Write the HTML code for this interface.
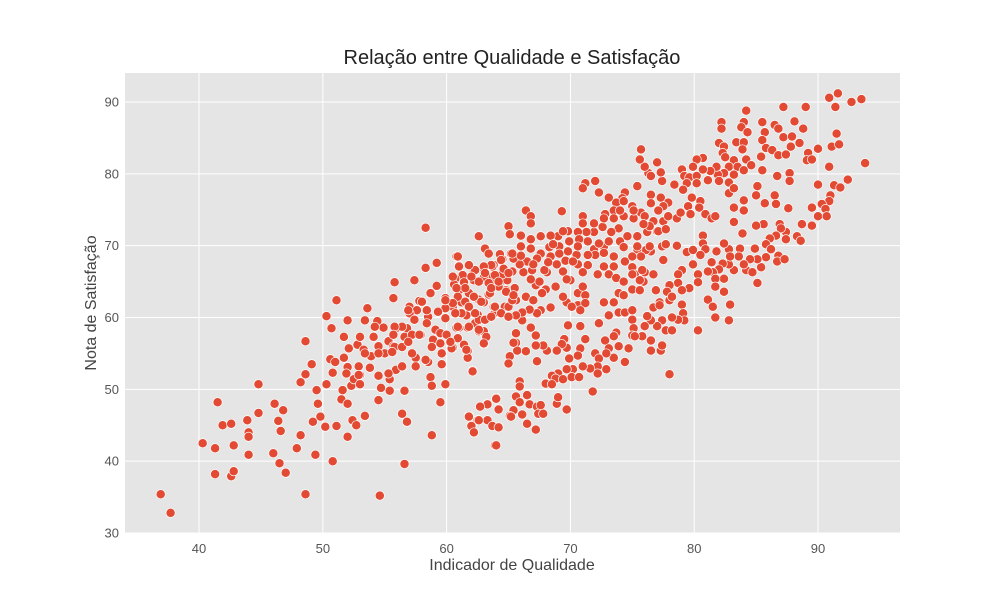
<!DOCTYPE html>
<html><head><meta charset="utf-8"><style>
html,body{margin:0;padding:0;background:#fff;}
svg{display:block;font-family:"Liberation Sans",sans-serif;}
</style></head><body>
<svg id="chart" width="1000" height="600" viewBox="0 0 1000 600">
<rect x="0" y="0" width="1000" height="600" fill="#fff"/>
<rect x="125" y="73" width="775" height="460" fill="#e5e5e5"/>
<g id="grid"></g>
<g id="ticks"></g>
<g id="marks"></g>
<text x="512" y="64" text-anchor="middle" font-size="20" fill="#222">Relação entre Qualidade e Satisfação</text>
<text x="512" y="570" text-anchor="middle" font-size="16" fill="#444">Indicador de Qualidade</text>
<text x="0" y="0" transform="translate(96,303) rotate(-90)" text-anchor="middle" font-size="16" fill="#444">Nota de Satisfação</text>
</svg>
<script>
const xTicks = [40, 50, 60, 70, 80, 90];
const yTicks = [30, 40, 50, 60, 70, 80, 90];
const pontos = [
[36.9,35.4],[37.7,32.8],[40.3,42.5],[41.3,41.8],[41.3,38.2],[41.5,48.2],[41.9,45.0],[42.6,45.2],[42.8,42.2],[42.6,37.9],
[42.8,38.6],[43.9,45.7],[44.0,44.0],[44.0,43.4],[44.0,40.9],[44.8,46.7],[44.8,50.7],[46.0,41.1],[46.1,48.0],[46.4,45.6],
[46.5,39.7],[46.6,44.2],[46.8,47.1],[47.0,38.4],[47.9,41.8],[48.2,51.0],[48.2,43.6],[48.6,52.1],[48.6,56.7],[48.6,35.4],
[49.1,53.5],[49.4,40.9],[49.5,49.9],[49.6,48.0],[49.8,46.2],[49.2,45.5],[50.2,44.8],[50.3,50.7],[50.3,60.2],[50.6,54.2],
[50.7,58.5],[50.8,40.0],[50.8,52.3],[51.0,53.8],[51.1,44.9],[51.1,62.4],[51.5,48.6],[51.6,49.9],[51.7,57.3],[51.7,54.4],
[52.0,43.4],[52.0,48.0],[52.0,53.1],[52.0,59.6],[52.4,45.7],[52.7,45.0],[52.3,50.5],[52.5,51.4],[52.8,56.2],[53.0,57.3],
[53.0,52.0],[53.0,50.7],[53.4,46.3],[53.4,59.6],[53.6,61.3],[53.3,55.5],[53.8,53.0],[54.1,57.3],[54.4,59.5],[54.5,56.0],
[54.5,51.9],[54.5,48.5],[54.6,35.2],[54.7,50.2],[54.9,58.6],[55.3,56.7],[55.4,51.4],[55.4,49.8],[55.7,62.7],[55.8,64.9],
[55.7,56.0],[55.9,52.7],[56.0,58.6],[56.4,46.6],[56.6,49.8],[56.6,39.6],[56.8,45.5],[56.8,58.5],[57.0,61.5],[57.2,57.6],
[57.4,65.2],[57.5,54.4],[57.5,53.2],[57.8,62.3],[57.9,57.6],[58.3,72.5],[58.3,66.9],[58.5,53.8],[58.7,51.7],[58.8,50.5],
[58.8,43.6],[58.7,63.4],[59.2,67.6],[59.2,64.4],[59.5,48.2],[59.6,53.5],[59.9,50.7],[59.9,59.9],[59.9,62.7],[60.8,68.5],
[61.0,67.2],[62.1,52.6],[62.6,71.3],[61.8,46.3],[62.2,44.0],[62.5,45.7],[62.7,47.6],[63.3,48.0],[63.3,45.7],[63.7,44.9],
[63.9,42.2],[64.0,48.8],[64.2,47.3],[64.2,44.8],
[90.9,90.6],[91.6,91.2],[91.4,89.3],[92.7,90.0],[93.5,90.4],[87.2,89.3],[89.0,89.3],[84.2,88.8],[82.2,87.2],[82.2,86.3],
[84.0,87.2],[83.8,86.5],[84.3,85.8],[85.5,87.2],[85.7,85.8],[86.5,86.8],[86.8,86.3],[87.2,85.1],[87.9,85.2],[88.1,87.3],
[88.8,86.3],[88.5,84.3],[87.8,83.8],[91.5,85.6],[91.1,83.8],[91.7,84.1],[90.0,83.5],[89.2,82.9],[89.1,81.9],[89.5,82.0],
[90.9,81.0],[93.8,81.5],[82.0,84.3],[82.4,83.8],[82.3,82.9],[82.5,82.3],[83.4,84.4],[84.0,84.4],[83.9,83.4],[85.5,84.7],
[85.8,83.6],[86.3,83.3],[86.8,82.6],[87.4,82.7],[85.4,82.4],[84.2,82.0],[84.6,81.2],[85.5,80.5],[83.2,81.9],[82.8,81.0],
[83.5,81.0],[84.0,80.5],[83.2,79.9],[82.8,78.8],[82.4,80.1],[81.9,79.9],[81.8,81.0],[81.3,80.4],[80.7,82.2],[80.2,82.0],
[79.9,81.0],[79.0,80.6],[79.2,79.7],[79.6,79.5],[80.2,79.7],[80.7,80.6],[81.1,79.1],[82.0,79.0],[80.2,78.7],[79.4,78.7],
[79.1,77.8],[78.4,78.5],[77.4,79.0],[77.3,80.2],[77.0,81.6],[76.3,80.1],[76.0,81.0],[75.6,82.0],[75.7,83.4],[76.5,79.7],
[75.4,78.3],[74.4,77.4],[74.2,76.6],[73.7,76.0],[73.1,76.7],[72.0,79.0],[71.2,78.7],[71.0,78.0],[72.3,77.4],[76.5,77.1],
[77.3,76.7],[77.9,76.0],[77.5,75.5],[77.1,74.9],[76.5,75.9],[75.7,74.6],[75.0,75.5],[74.3,76.2],[73.5,74.9],[72.8,74.4],
[71.0,74.1],[71.0,73.1],[69.3,74.8],[66.4,74.9],[66.8,74.1],[66.8,73.1],[65.0,72.7],[65.1,71.6],[66.0,71.4],[62.6,71.3],
[63.1,69.6],[63.4,68.9],[60.9,68.5],[61.0,67.1],
[79.8,76.7],[80.5,76.2],[79.5,75.5],[80.4,75.3],[79.7,74.4],[80.9,74.4],[81.4,73.8],[81.7,74.1],[78.6,73.8],[78.9,74.6],
[82.8,77.3],[83.2,78.0],[84.0,76.3],[83.2,75.3],[84.0,74.9],[83.2,73.3],[83.9,71.7],[85.0,77.0],[85.1,78.3],[85.7,75.9],
[86.5,77.0],[86.6,75.8],[86.7,79.7],[87.7,80.1],[87.7,79.0],[87.6,75.2],[90.0,78.5],[91.3,78.4],[91.8,78.1],[92.4,79.2],
[91.0,77.0],[90.9,76.2],[90.3,75.8],[89.5,75.3],[90.6,75.1],[90.0,74.1],[90.7,74.1],[89.5,72.8],[88.7,73.0],[88.3,71.3],
[88.6,70.7],[87.4,71.9],[87.4,70.9],[86.9,73.0],[87.0,72.4],[86.6,71.4],[86.1,71.0],[85.8,70.2],[85.6,73.0],[85.0,72.8],
[84.9,69.6],[86.2,69.5],[86.8,68.6],[86.7,67.8],[87.3,68.1],[85.8,68.4],[85.4,67.0],[85.1,68.1],[84.5,68.1],[84.2,66.6],
[84.7,66.3],[85.1,64.8],[83.7,69.6],[83.6,68.5],[84.0,67.4],[83.2,66.6],[82.8,67.4],[82.8,69.5],[82.4,70.3],[82.9,68.5],
[82.3,67.5],[82.4,65.4],[82.0,66.7],[81.4,67.7],[81.5,66.3],[81.7,65.4],[81.8,69.2],[81.1,66.4],[80.3,66.0],[80.3,64.9],
[79.6,64.1],[79.9,67.4],[79.4,69.1],[79.9,69.4],[80.7,71.4],[80.7,70.3],[80.9,69.5],[80.5,68.7],[79.0,66.6],[78.7,66.0],
[78.7,64.8],[79.0,63.8],[78.0,64.5],[77.8,63.6],[78.0,62.4],[77.5,68.0],[77.4,69.9],[77.7,70.2],[78.6,70.0],[76.5,69.2],
[76.1,69.4],[75.4,69.5],[75.7,68.5],[75.0,67.0],[75.2,66.0],[76.0,66.3],[76.7,66.0],[75.9,65.0],[75.0,63.9],[75.6,63.8],
[76.9,63.8],[77.2,62.1],[78.2,62.9],[79.0,61.8],[79.1,60.6],[79.2,59.6],[78.7,59.7],[78.2,60.0],[77.4,59.6],[77.0,58.8],
[77.7,58.2],[78.2,58.2],[76.5,59.6],[76.2,60.2],[76.7,61.4],[77.2,61.7],[76.0,58.8],[75.8,57.4],[76.5,56.8],[76.5,55.4],
[77.3,55.4],[77.4,56.1],[78.0,52.1],[80.3,58.2],[81.1,62.5],[81.5,61.5],[81.7,60.0],[82.9,61.8],[82.8,59.6],[82.4,63.6],
[81.7,64.3],[73.9,63.4],[74.3,63.1],[73.5,62.1],[73.9,60.7],[74.4,60.7],[75.0,61.0],[75.0,59.7],[75.1,58.5],[75.0,57.5],
[75.2,57.4],[73.7,57.9],[73.5,57.4],[72.8,56.8],[73.1,55.7],[73.5,54.4],[73.9,56.0],[74.7,55.7],[74.4,53.8],[72.7,62.1],
[73.1,60.3],[72.3,59.2],[72.0,55.0],[72.3,54.3],[72.9,55.0],[72.9,52.8],[72.2,53.2],[72.2,52.2],[71.6,52.9],[71.0,53.2],
[71.8,49.7],[71.2,57.0],[70.8,55.7],[70.6,54.7],[69.9,54.3],[69.7,55.8],[69.5,57.0],[69.3,56.3],[68.9,55.4],[68.1,55.4],
[67.8,56.1],[67.2,56.1],[67.3,53.9],[67.2,57.5],[66.8,58.6],[66.1,59.6],[65.6,57.8],[65.6,56.5],[65.7,55.4],[65.1,54.6],
[65.0,53.6],[66.4,55.3],[69.8,58.9],[70.8,58.8],[70.2,52.8],[69.7,52.8],[69.0,52.2],[68.5,51.9],[68.8,51.5],[69.4,51.4],
[70.1,51.7],[70.7,51.7],[68.0,50.8],[68.5,50.7],[68.9,48.0],[69.0,48.9],[69.7,47.2],[65.9,51.1],[65.9,50.4],[65.6,49.0],
[66.5,49.2],[65.9,48.2],[66.7,47.9],[67.3,47.6],[67.6,47.8],[67.4,46.6],[67.8,46.6],[67.2,44.4],[66.5,45.2],[66.1,46.5],
[65.4,47.1],[65.1,46.3],[64.2,47.2],[64.0,48.7],[63.3,47.9],[62.7,47.6],[61.8,46.2],[62.6,45.7],[62.0,44.9],[62.2,44.0],
[63.7,44.9],[64.2,44.7],[64.0,42.2],[65.2,46.2],
[70.6,63.4],[71.2,63.1],[70.6,61.7],[71.2,62.0],[70.8,61.0],[69.7,62.1],[70.1,61.5],[69.4,62.9],[68.4,61.4],[67.6,61.0],
[67.3,60.6],[66.7,61.1],[66.1,60.7],[65.6,60.3],[65.4,56.5],[64.7,61.5],[63.9,60.7],[63.8,61.5],[63.1,59.7],[62.5,60.4],
[61.6,60.3],[61.0,58.6],[61.7,58.6],[62.3,59.2],[62.6,58.1],[63.0,58.1],[63.0,56.3],[61.4,56.1],[61.7,55.4],[61.7,54.4],
[62.1,52.5],[60.5,55.8],[60.8,58.6],
[72.7,67.1],[73.5,67.1],[74.4,67.8],[75.0,68.5],[75.0,66.0],[75.8,66.6],[75.6,65.2],
[72.7,69.9],[71.9,69.5],[72.0,68.7],[71.4,68.7],[70.5,68.7],[70.6,67.4],[71.4,67.3],[72.2,66.0],[73.1,66.0],[73.7,65.5],
[74.3,65.0],[71.0,64.3],[70.0,65.2],[69.4,66.4],[69.7,65.3],[68.8,64.3],[68.0,63.9],[67.2,64.5],[67.7,63.4],[66.8,65.3],
[66.2,66.3],[66.9,66.6],[68.1,66.3],[68.9,67.4],[69.6,67.9],[68.4,68.5],[67.6,68.9],[66.8,69.6],[66.0,69.9],[65.2,68.9],
[64.5,68.1],[63.8,67.3],[63.0,66.8],[62.2,66.4],[61.3,65.9],[60.7,65.4],[63.5,64.8],[64.3,64.9],[64.9,65.2],[65.5,64.1],
[64.8,63.8],[63.4,63.2],[62.6,62.5],[61.8,63.4],[61.0,63.8],[61.2,62.1],[60.5,61.5],[63.0,62.1],[66.4,62.9],[67.0,62.4],
[65.6,62.4],
[74.3,74.1],[75.1,73.8],[76.0,74.1],[76.7,73.4],[77.5,73.4],[77.9,74.1],[77.0,72.0],[76.2,71.9],[75.4,71.3],[74.6,71.3],
[73.9,72.4],[73.3,71.9],[72.6,72.6],[71.9,71.9],[71.3,71.9],[70.6,71.9],[69.8,72.0],[71.9,73.1],[72.7,73.8],[73.5,73.8],
[74.0,74.9],[75.1,74.9],[74.0,70.6],[73.1,70.6],[72.3,70.3],[71.4,70.6],[70.7,70.9],[69.9,70.6],[69.0,71.3],[68.4,71.4],
[67.6,71.3],[66.8,70.9],[68.3,69.8],[69.1,69.9],[69.8,69.2],[70.6,69.9],[69.4,72.0],[68.6,70.2],[67.3,68.2],[66.5,67.8],
[65.9,67.4],[65.3,66.4],[64.5,66.0],[63.7,65.7],[63.0,65.6],[62.2,65.2],[61.4,64.9],[60.6,64.6],[64.6,66.8],[65.4,68.2],
[66.0,68.6],[64.3,68.8],[63.7,67.1],[67.9,66.6],[67.5,65.0],[67.0,67.4],[68.2,67.7],[69.1,68.9],[70.2,67.8],[71.0,66.3],
[72.7,69.0],[73.5,68.5],[74.3,69.8],[75.4,69.9],[76.4,69.9],[77.1,72.0],[77.7,72.3],[76.4,72.7],[75.9,73.0],
[60.9,62.9],[61.5,62.2],[62.2,62.9],[62.8,62.2],[63.5,63.4],[64.2,64.3],[64.8,63.6],[65.0,66.2],[64.4,68.0],[65.3,68.9],
[63.6,67.3],[63.0,67.1],[62.3,66.6],[61.8,67.3],[62.6,65.0],[63.4,64.8],[61.5,64.1],[60.5,65.7],[60.8,64.1],[59.9,61.3],
[59.3,60.8],[58.5,60.1],[58.4,61.0],[58.0,62.2],[57.6,61.0],[57.0,60.6],[56.4,58.7],[55.8,58.7],[56.6,57.3],[57.2,57.6],
[57.8,57.6],[58.4,59.2],[59.1,58.3],[59.5,57.8],[58.9,56.9],[58.8,55.9],[59.5,56.4],[60.0,57.6],[60.4,55.7],[60.9,58.7],
[60.9,57.1],[61.4,56.2],[61.6,55.5],[61.8,58.7],[62.6,59.7],[62.6,58.3],[63.2,57.3],[63.0,56.4],[63.1,59.7],[63.6,60.1],
[63.9,61.5],[65.0,61.5],[65.3,62.4],[64.4,60.6],[65.0,60.1],[65.4,63.1],[62.3,60.6],[61.8,61.5],[61.2,60.6],[60.7,60.6],
[60.5,62.0],[59.9,62.4],[62.0,65.7],[63.1,66.2],[63.9,65.9],[64.2,65.0],[63.6,64.1],
[56.9,61.0],[57.4,59.7],[55.8,55.9],[56.4,55.9],[55.0,55.0],[55.6,55.2],[54.2,58.7],[53.9,54.6],[52.9,53.2],[52.9,52.0],
[52.1,55.7],[51.9,52.2],[53.4,55.0],[55.3,52.2],[54.5,55.0],[56.4,53.2],[57.2,55.0],[58.3,54.1],[59.6,55.0],[60.3,56.6],
[56.9,56.6],[55.7,57.6]
];

const NS = "http://www.w3.org/2000/svg";
const plot = {left:125, right:900, top:73, bottom:533};
const xDomain = [34.02, 96.62];
const yDomain = [30, 94.04];
function xScale(v){ return plot.left + (v - xDomain[0]) / (xDomain[1] - xDomain[0]) * (plot.right - plot.left); }
function yScale(v){ return plot.bottom - (v - yDomain[0]) / (yDomain[1] - yDomain[0]) * (plot.bottom - plot.top); }

const grid = document.getElementById('grid');
const ticks = document.getElementById('ticks');
xTicks.forEach(t => {
  const x = xScale(t);
  const l = document.createElementNS(NS,'line');
  l.setAttribute('x1',x); l.setAttribute('x2',x); l.setAttribute('y1',plot.top); l.setAttribute('y2',plot.bottom);
  l.setAttribute('stroke','#fff'); l.setAttribute('stroke-width','1');
  
  
  grid.appendChild(l);
  const tx = document.createElementNS(NS,'text');
  tx.setAttribute('x',x); tx.setAttribute('y',plot.bottom+20);
  tx.setAttribute('text-anchor','middle'); tx.setAttribute('font-size','13'); tx.setAttribute('fill','#555');
  tx.textContent = t;
  
  
  ticks.appendChild(tx);
});
yTicks.forEach(t => {
  const y = yScale(t);
  const l = document.createElementNS(NS,'line');
  l.setAttribute('x1',plot.left); l.setAttribute('x2',plot.right); l.setAttribute('y1',y); l.setAttribute('y2',y);
  l.setAttribute('stroke','#fff'); l.setAttribute('stroke-width','1');
  
  
  grid.appendChild(l);
  const tx = document.createElementNS(NS,'text');
  tx.setAttribute('x',plot.left-6); tx.setAttribute('y',y+4.5);
  tx.setAttribute('text-anchor','end'); tx.setAttribute('font-size','13'); tx.setAttribute('fill','#555');
  tx.textContent = t;
  
  
  ticks.appendChild(tx);
});
const marks = document.getElementById('marks');
pontos.forEach(p => {
  const c = document.createElementNS(NS,'circle');
  c.setAttribute('cx', xScale(p[0]).toFixed(1));
  c.setAttribute('cy', yScale(p[1]).toFixed(1));
  c.setAttribute('r','4.6');
  c.setAttribute('fill','#E24A33');
  c.setAttribute('stroke','#fff'); c.setAttribute('stroke-width','0.7');
  
  
  marks.appendChild(c);
});
</script>
</body></html>
